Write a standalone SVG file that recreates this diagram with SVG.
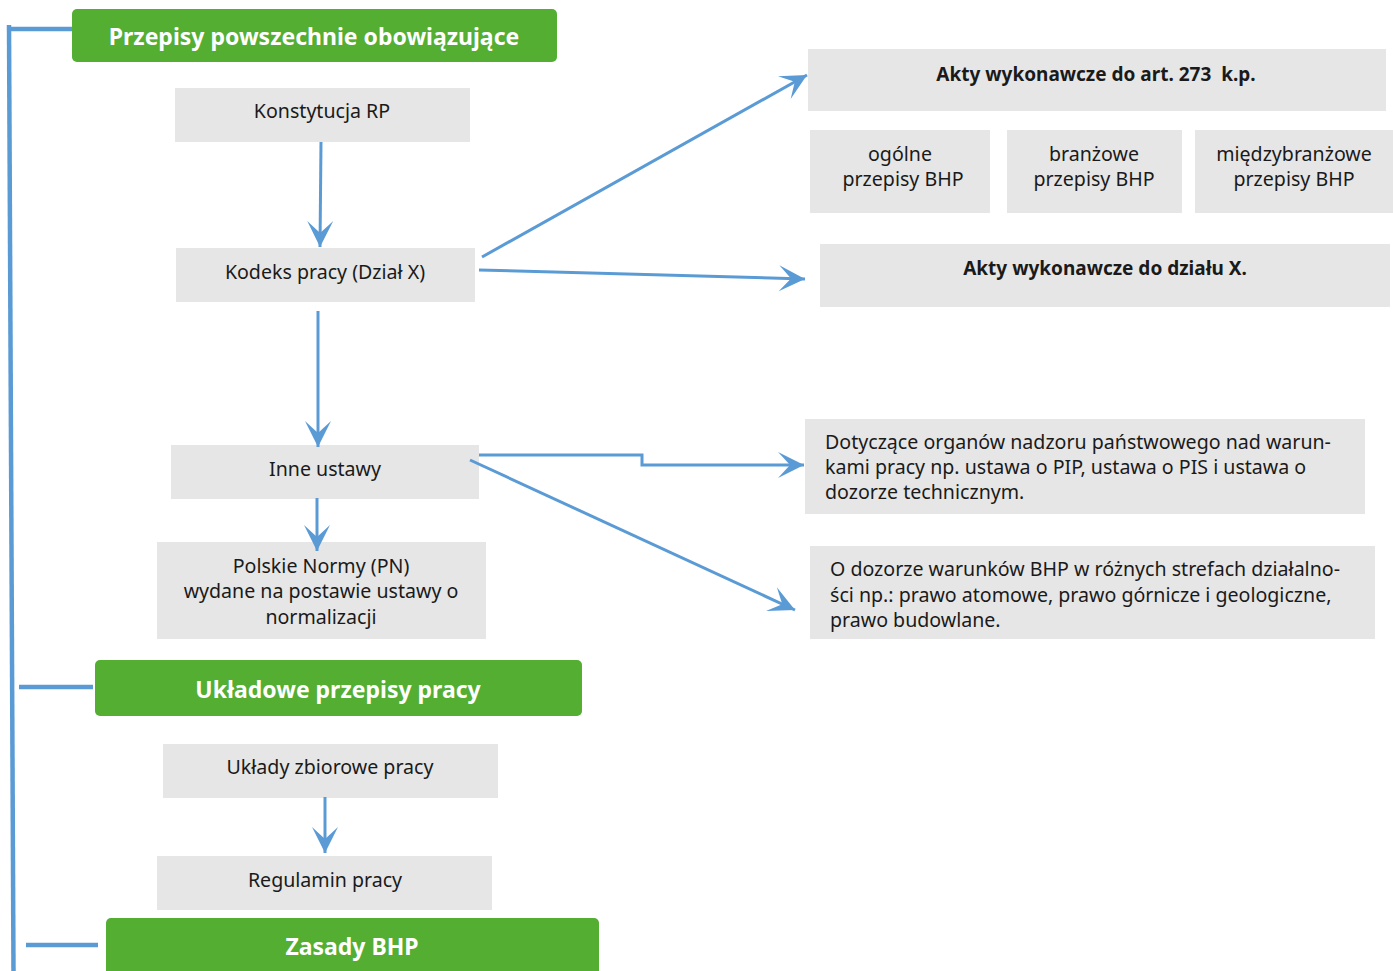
<svg xmlns="http://www.w3.org/2000/svg" width="1393" height="971" viewBox="0 0 1393 971">
<style>
.g{fill:#53ae32}
.b{fill:#e6e6e6}
.gt{font-family:"Noto Sans","Open Sans",sans-serif;font-weight:bold;font-size:23px;fill:#fff;text-anchor:middle}
.t{font-family:"Noto Sans","Open Sans",sans-serif;font-size:19.6px;fill:#1a1a1a;text-anchor:middle}
.tl{font-family:"Noto Sans","Open Sans",sans-serif;font-size:19.6px;fill:#1a1a1a}
.tb{font-family:"Noto Sans","Open Sans",sans-serif;font-size:19px;font-weight:bold;fill:#1a1a1a;text-anchor:middle}
.c{fill:none;stroke:#5b9bd5;stroke-width:3}
.s{fill:none;stroke:#5b9bd5;stroke-width:4.5}
</style>
<defs>
<marker id="ah" markerUnits="userSpaceOnUse" markerWidth="30" markerHeight="30" viewBox="-27 -15 30 30" refX="0" refY="0" orient="auto">
<path d="M0,0 L-26,-13 L-14,0 L-26,13 Z" fill="#5b9bd5"/>
</marker>
</defs>
<g id="spine">
<path class="s" d="M9,25 L13.5,971"/>
<path class="s" d="M7,29 L80,29"/>
<path class="s" d="M19,687 L93,687"/>
<path class="s" d="M26,945 L98,945"/>
</g>
<g id="n-title1"><rect class="g" x="72" y="9" width="485" height="53" rx="5"/><text class="gt" x="314" y="45">Przepisy powszechnie obowiązujące</text></g>
<g id="n-title2"><rect class="g" x="95" y="660" width="487" height="56" rx="5"/><text class="gt" x="338" y="698">Układowe przepisy pracy</text></g>
<g id="n-title3"><rect class="g" x="106" y="918" width="493" height="60" rx="5"/><text class="gt" x="352" y="955">Zasady BHP</text></g>
<g id="n-konst"><rect class="b" x="175" y="88" width="295" height="54"/><text class="t" x="322" y="118">Konstytucja RP</text></g>
<g id="n-kodeks"><rect class="b" x="176" y="248" width="299" height="54"/><text class="t" x="325" y="279">Kodeks pracy (Dział X)</text></g>
<g id="n-inne"><rect class="b" x="171" y="445" width="308" height="54"/><text class="t" x="325" y="476">Inne ustawy</text></g>
<g id="n-pn"><rect class="b" x="157" y="542" width="329" height="97"/><text class="t" x="321" y="573">Polskie Normy (PN)</text><text class="t" x="321" y="598">wydane na postawie ustawy o</text><text class="t" x="321" y="624">normalizacji</text></g>
<g id="n-uklady"><rect class="b" x="163" y="744" width="335" height="54"/><text class="t" x="330" y="774">Układy zbiorowe pracy</text></g>
<g id="n-regulamin"><rect class="b" x="157" y="856" width="335" height="54"/><text class="t" x="325" y="887">Regulamin pracy</text></g>
<g id="n-akty273"><rect class="b" x="808" y="49" width="578" height="62"/><text class="tb" x="1096" y="81" xml:space="preserve">Akty wykonawcze do art. 273  k.p.</text></g>
<g id="n-ogolne"><rect class="b" x="810" y="130" width="180" height="83"/><text class="t" x="900" y="161">ogólne</text><text class="t" x="903" y="186">przepisy BHP</text></g>
<g id="n-branzowe"><rect class="b" x="1007" y="130" width="175" height="83"/><text class="t" x="1094" y="161">branżowe</text><text class="t" x="1094" y="186">przepisy BHP</text></g>
<g id="n-miedzy"><rect class="b" x="1195" y="130" width="198" height="83"/><text class="t" x="1294" y="161">międzybranżowe</text><text class="t" x="1294" y="186">przepisy BHP</text></g>
<g id="n-aktyx"><rect class="b" x="820" y="244" width="570" height="63"/><text class="tb" x="1105" y="275">Akty wykonawcze do działu X.</text></g>
<g id="n-dot"><rect class="b" x="805" y="419" width="560" height="95"/><text class="tl" x="825" y="449">Dotyczące organów nadzoru państwowego nad warun-</text><text class="tl" x="825" y="474">kami pracy np. ustawa o PIP, ustawa o PIS i ustawa o</text><text class="tl" x="825" y="499">dozorze technicznym.</text></g>
<g id="n-dozor"><rect class="b" x="810" y="546" width="565" height="93"/><text class="tl" x="830" y="576">O dozorze warunków BHP w różnych strefach działalno-</text><text class="tl" x="830" y="602">ści np.: prawo atomowe, prawo górnicze i geologiczne,</text><text class="tl" x="830" y="627">prawo budowlane.</text></g>
<g id="connectors">
<path class="c" d="M321,142 L320,247" marker-end="url(#ah)"/>
<path class="c" d="M318,311 L318,447" marker-end="url(#ah)"/>
<path class="c" d="M317,498 L317,551" marker-end="url(#ah)"/>
<path class="c" d="M325,797 L325,853" marker-end="url(#ah)"/>
<path class="c" d="M482,257 L807,75" marker-end="url(#ah)"/>
<path class="c" d="M479,270 L805,279" marker-end="url(#ah)"/>
<path class="c" d="M479,455 L642,455 L642,465 L804,465" marker-end="url(#ah)"/>
<path class="c" d="M470,460 L795,610" marker-end="url(#ah)"/>
</g>
</svg>
